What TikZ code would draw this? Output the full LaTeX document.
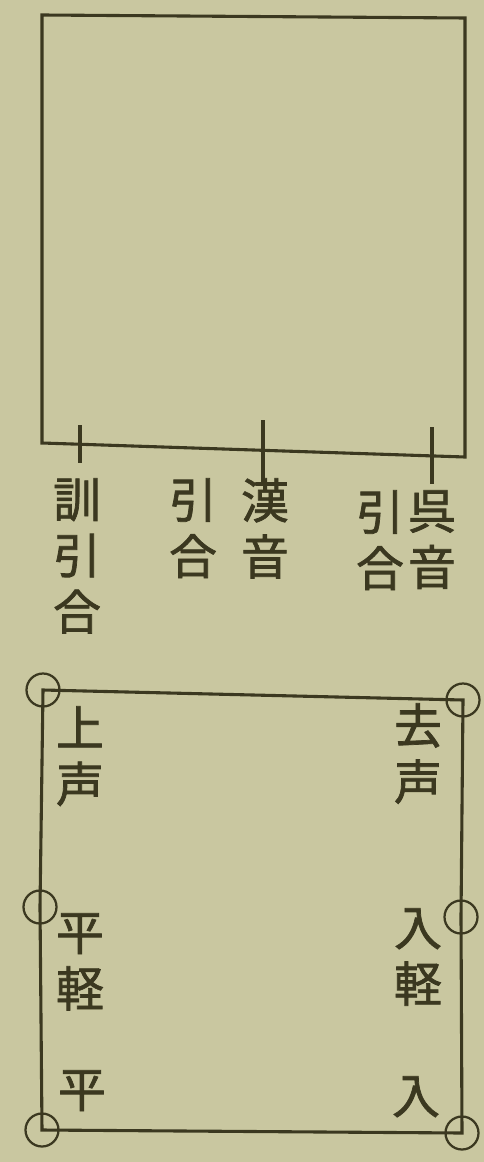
\documentclass[tikz,border=0pt]{standalone}
\usepackage{fontspec}
\newfontfamily\jp[FakeBold=1.5]{Noto Sans CJK JP}
\usetikzlibrary{positioning}
\definecolor{paper}{HTML}{C9C7A0}
\definecolor{ink}{HTML}{3B3820}

\begin{document}
\begin{tikzpicture}[x=0.025cm,y=-0.025cm,
	ink line/.style={draw=ink,line width=2.2pt},
	ring/.style={circle,draw=ink,line width=1.6pt,minimum size=33*0.025cm,inner sep=0pt},
	word/.style={text=ink,font=\jp\fontsize{34}{40}\selectfont,align=center,inner sep=0pt}]
	\fill[paper] (0,0) rectangle (484,1162);
	\useasboundingbox (0,0) rectangle (484,1162);
	% upper box
	\coordinate (ul) at (42,15);
	\coordinate (ur) at (465,18);
	\coordinate (lr) at (465,457);
	\coordinate (ll) at (42,443);
	\draw[ink line] (ul) -- (ur) -- (lr) -- (ll) -- cycle;
	% ticks on the lower edge
	\coordinate (kun top) at (80,425);
	\coordinate (kun bot) at (80,463);
	\coordinate (kan top) at (263,420);
	\coordinate (kan bot) at (263,482);
	\coordinate (go top) at (432,427);
	\coordinate (go bot) at (432,484);
	\draw[ink line] (kun top) -- (kun bot);
	\draw[ink line] (kan top) -- (kan bot);
	\draw[ink line] (go top) -- (go bot);
	\node[word,anchor=north] (kun) at (77,478) {訓\\引\\合};
	\node[word,anchor=north] (kanin) at (193,478) {引\\合};
	\node[word,anchor=north] (kan) at (265,478) {漢\\音};
	\node[word,anchor=north] (goin) at (380,490) {引\\合};
	\node[word,anchor=north] (go) at (432,490) {呉\\音};
	% lower box with rings
	\coordinate (a) at (43,690);
	\coordinate (b) at (463,700);
	\coordinate (c) at (462,1133);
	\coordinate (d) at (42,1130);
	\coordinate (e) at (40,907);
	\coordinate (f) at (461,917);
	\draw[ink line] (a) -- (b) -- (f) -- (c) -- (d) -- (e) -- cycle;
	\foreach \p in {a,b,c,d,e,f}
		\node[ring] (r\p) at (\p) {};
	\node[word,anchor=north] (jo) at (80,706) {上\\声};
	\node[word,anchor=north] (kyo) at (418,703) {去\\声};
	\node[word,anchor=north] (hyokei) at (80,913) {平\\軽};
	\node[word,anchor=north] (nyukei) at (418,908) {入\\軽};
	\node[word,anchor=north] (hyo) at (82,1070) {平};
	\node[word,anchor=north] (nyu) at (416,1076) {入};
\end{tikzpicture}
\end{document}
